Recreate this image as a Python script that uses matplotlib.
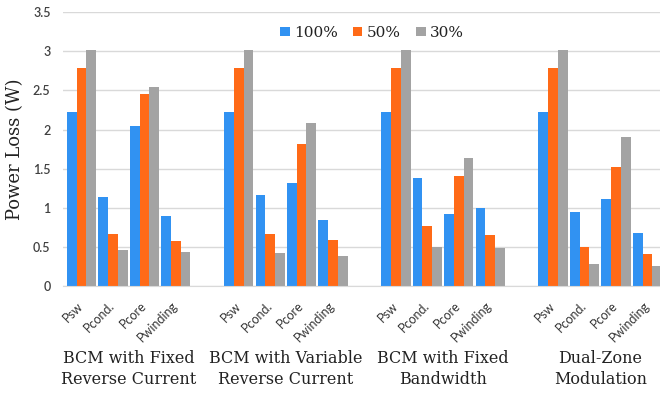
import numpy as np
import matplotlib
matplotlib.use('Agg')
import matplotlib.pyplot as plt
from matplotlib.transforms import blended_transform_factory

# Data
groups = ['BCM with Fixed\nReverse Current', 'BCM with Variable\nReverse Current',
          'BCM with Fixed\nBandwidth', 'Dual-Zone\nModulation']
losses = ['Psw', 'Pcond.', 'Pcore', 'Pwinding']
series = ['100%', '50%', '30%']

p100 = [2.23, 1.14, 2.05, 0.89, 2.23, 1.16, 1.32, 0.84, 2.23, 1.38, 0.92, 1.00, 2.23, 0.94, 1.11, 0.68]
p50 = [2.79, 0.66, 2.45, 0.58, 2.79, 0.66, 1.82, 0.59, 2.79, 0.77, 1.40, 0.65, 2.79, 0.50, 1.52, 0.41]
p30 = [3.02, 0.46, 2.55, 0.43, 3.02, 0.42, 2.08, 0.38, 3.02, 0.50, 1.64, 0.48, 3.02, 0.28, 1.91, 0.25]

colors = ['#3192F2', '#FF6A17', '#A3A3A3']
serif = 'DejaVu Serif'
sans = 'Lato'

# one empty slot between groups, like the original category axis
pos = np.array([g * 5 + k for g in range(len(groups)) for k in range(len(losses))])
labels = [l for g in groups for l in losses]

fig = plt.figure(figsize=(6.6, 3.94), dpi=100)
ax = fig.add_axes([63 / 660, 0.2741, 597 / 660, 0.6949])

w = 0.31
for i, (vals, c) in enumerate(zip([p100, p50, p30], colors)):
    ax.bar(pos + (i - 1) * w, vals, width=w, color=c, linewidth=0, label=series[i])

ax.set_xlim(-0.59, 18.40)
ax.set_ylim(0, 3.5)
ax.set_yticks(np.arange(0, 3.51, 0.5))
ax.set_yticklabels(['0', '0.5', '1', '1.5', '2', '2.5', '3', '3.5'],
                   fontfamily=sans, fontsize=9, fontweight='semibold', color='#404040')
ax.set_xticks(pos)
ax.set_xticklabels(labels, fontfamily=sans, fontsize=9, color='#333333')
plt.setp(ax.get_xticklabels(), rotation=45, ha='right', va='center', rotation_mode='anchor')
ax.tick_params(axis='x', length=0, pad=13)
ax.tick_params(axis='y', length=0, pad=9)

ax.yaxis.grid(True, color='#D9D9D9', linewidth=1)
ax.set_axisbelow(True)
for s in ['top', 'right', 'left']:
    ax.spines[s].set_visible(False)
ax.spines['bottom'].set_color('#D9D9D9')

ax.set_ylabel('Power Loss (W)', fontfamily=serif, fontsize=13, color='#222222')
ax.yaxis.set_label_coords(-0.066, 0.5)

# group names under the loss labels
trans = blended_transform_factory(ax.transData, ax.transAxes)
for g, name in enumerate(groups):
    ax.text(g * 5 + 1.5, -0.303, name, transform=trans, ha='center', va='center',
            multialignment='center', fontfamily=serif, fontsize=11.5, color='#222222',
            linespacing=1.3)

leg = ax.legend(loc='center', bbox_to_anchor=(0.518, 0.924), ncol=3, frameon=False,
                prop={'family': serif, 'size': 11}, handlelength=0.6, handleheight=0.6,
                handletextpad=0.3, columnspacing=1.0)
for t in leg.get_texts():
    t.set_color('#222222')

fig.savefig('out.png', dpi=100)
